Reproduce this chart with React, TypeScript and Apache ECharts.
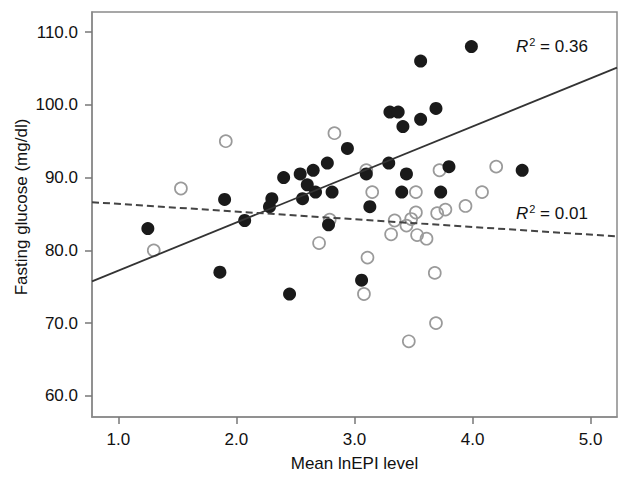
import React, { useEffect, useRef } from "react";
import * as echarts from "echarts";

// Filled (black) points: Mean lnEPI level vs fasting glucose
const filledX = [1.25, 1.86, 1.90, 2.07, 2.28, 2.30, 2.40, 2.45, 2.54, 2.56, 2.60, 2.65, 2.67, 2.77, 2.78, 2.81, 2.94, 3.06, 3.10, 3.13, 3.29, 3.30, 3.37, 3.40, 3.41, 3.44, 3.56, 3.56, 3.69, 3.73, 3.80, 3.99, 4.42];
const filledY = [83.0, 77.0, 87.0, 84.1, 86.0, 87.1, 90.0, 74.0, 90.5, 87.1, 89.0, 91.0, 88.0, 92.0, 83.5, 88.0, 94.0, 75.9, 90.5, 86.0, 92.0, 99.0, 99.0, 88.0, 97.0, 90.5, 106.0, 98.0, 99.5, 88.0, 91.5, 108.0, 91.0];

// Open (grey) points
const openX = [1.30, 1.53, 1.91, 2.70, 2.79, 2.83, 3.08, 3.10, 3.11, 3.15, 3.31, 3.34, 3.44, 3.46, 3.48, 3.52, 3.52, 3.53, 3.61, 3.68, 3.69, 3.70, 3.72, 3.77, 3.94, 4.08, 4.20];
const openY = [80.0, 88.5, 95.0, 81.0, 84.2, 96.1, 74.0, 91.0, 79.0, 88.0, 82.2, 84.1, 83.4, 67.5, 84.3, 88.0, 85.2, 82.1, 81.6, 76.9, 70.0, 85.1, 91.0, 85.6, 86.1, 88.0, 91.5];

// Regression fits (intercept, slope) and R² labels
const fitFilled = { intercept: 70.61, slope: 6.604, r2: "0.36" };
const fitOpen = { intercept: 87.44, slope: -1.057, r2: "0.01" };

// Axes
const xRange = [0.777, 5.223];
const yRange = [57.1, 112.75];
const xTicks = [1, 2, 3, 4, 5];
const yTicks = [60, 70, 80, 90, 100, 110];
const xTitle = "Mean lnEPI level";
const yTitle = "Fasting glucose (mg/dl)";

const FONT = "Liberation Sans, Arial, Helvetica, sans-serif";

function fitLine(f: { intercept: number; slope: number }) {
  return xRange.map((x) => [x, f.intercept + f.slope * x]);
}

export default function App() {
  const ref = useRef<HTMLDivElement>(null);
  useEffect(() => {
    document.body.style.margin = "0";
    if (!ref.current) return;
    const chart = echarts.init(ref.current, null, { renderer: "svg" });
    const axisColor = "#8a8a8a";
    const r2Rich = {
      r: { fontFamily: FONT, fontSize: 17, fontStyle: "italic", fill: "#111" },
      s: { fontFamily: FONT, fontSize: 11, fill: "#111", padding: [0, 0, 9, 1] },
      n: { fontFamily: FONT, fontSize: 17, fill: "#111" },
    };
    chart.setOption({
      animation: false,
      backgroundColor: "#ffffff",
      grid: {
        left: 92,
        top: 12,
        right: 12,
        bottom: 60,
        show: true,
        borderColor: axisColor,
        borderWidth: 1.5,
        backgroundColor: "transparent",
      },
      xAxis: {
        type: "value",
        min: xRange[0],
        max: xRange[1],
        splitLine: { show: false },
        axisLine: { show: true, lineStyle: { color: axisColor, width: 1.5 } },
        axisTick: {
          show: true,
          customValues: xTicks,
          length: 7,
          lineStyle: { color: "#777", width: 1.5 },
        },
        axisLabel: {
          customValues: xTicks,
          formatter: (v: number) => v.toFixed(1),
          fontFamily: FONT,
          fontSize: 17,
          color: "#111",
          margin: 14,
        },
      },
      yAxis: {
        type: "value",
        min: yRange[0],
        max: yRange[1],
        splitLine: { show: false },
        axisLine: { show: true, lineStyle: { color: axisColor, width: 1.5 } },
        axisTick: {
          show: true,
          customValues: yTicks,
          length: 7,
          lineStyle: { color: "#777", width: 1.5 },
        },
        axisLabel: {
          customValues: yTicks,
          formatter: (v: number) => v.toFixed(1),
          fontFamily: FONT,
          fontSize: 17,
          color: "#111",
          margin: 14,
        },
      },
      graphic: [
        {
          type: "text",
          x: 354.5,
          y: 463,
          style: {
            text: xTitle,
            fontFamily: FONT,
            fontSize: 17,
            fill: "#111",
            align: "center",
            verticalAlign: "middle",
          },
        },
        {
          type: "text",
          x: 21,
          y: 207,
          rotation: Math.PI / 2,
          style: {
            text: yTitle,
            fontFamily: FONT,
            fontSize: 17,
            fill: "#111",
            align: "center",
            verticalAlign: "middle",
          },
        },
        {
          type: "text",
          x: 516,
          y: 46,
          style: {
            text: "{r|R}{s|2}{n| = " + fitFilled.r2 + "}",
            rich: r2Rich,
            verticalAlign: "middle",
            align: "left",
          },
        },
        {
          type: "text",
          x: 516,
          y: 213,
          style: {
            text: "{r|R}{s|2}{n| = " + fitOpen.r2 + "}",
            rich: r2Rich,
            verticalAlign: "middle",
            align: "left",
          },
        },
      ],
      series: [
        {
          type: "scatter",
          name: "open",
          data: openX.map((x, i) => [x, openY[i]]),
          symbol: "circle",
          symbolSize: 12,
          itemStyle: { color: "rgba(255,255,255,0)", borderColor: "#9a9a9a", borderWidth: 1.7, opacity: 1 },
          z: 2,
        },
        {
          type: "scatter",
          name: "filled",
          data: filledX.map((x, i) => [x, filledY[i]]),
          symbol: "circle",
          symbolSize: 13,
          itemStyle: { color: "#1a1a1a", opacity: 1 },
          z: 3,
        },
        {
          type: "line",
          data: fitLine(fitFilled),
          symbol: "none",
          lineStyle: { color: "#333", width: 1.8 },
          z: 4,
        },
        {
          type: "line",
          data: fitLine(fitOpen),
          symbol: "none",
          lineStyle: { color: "#444", width: 2, type: [7, 4] },
          z: 4,
        },
      ],
    });
    return () => chart.dispose();
  }, []);
  return <div ref={ref} style={{ width: 629, height: 477 }} />;
}
